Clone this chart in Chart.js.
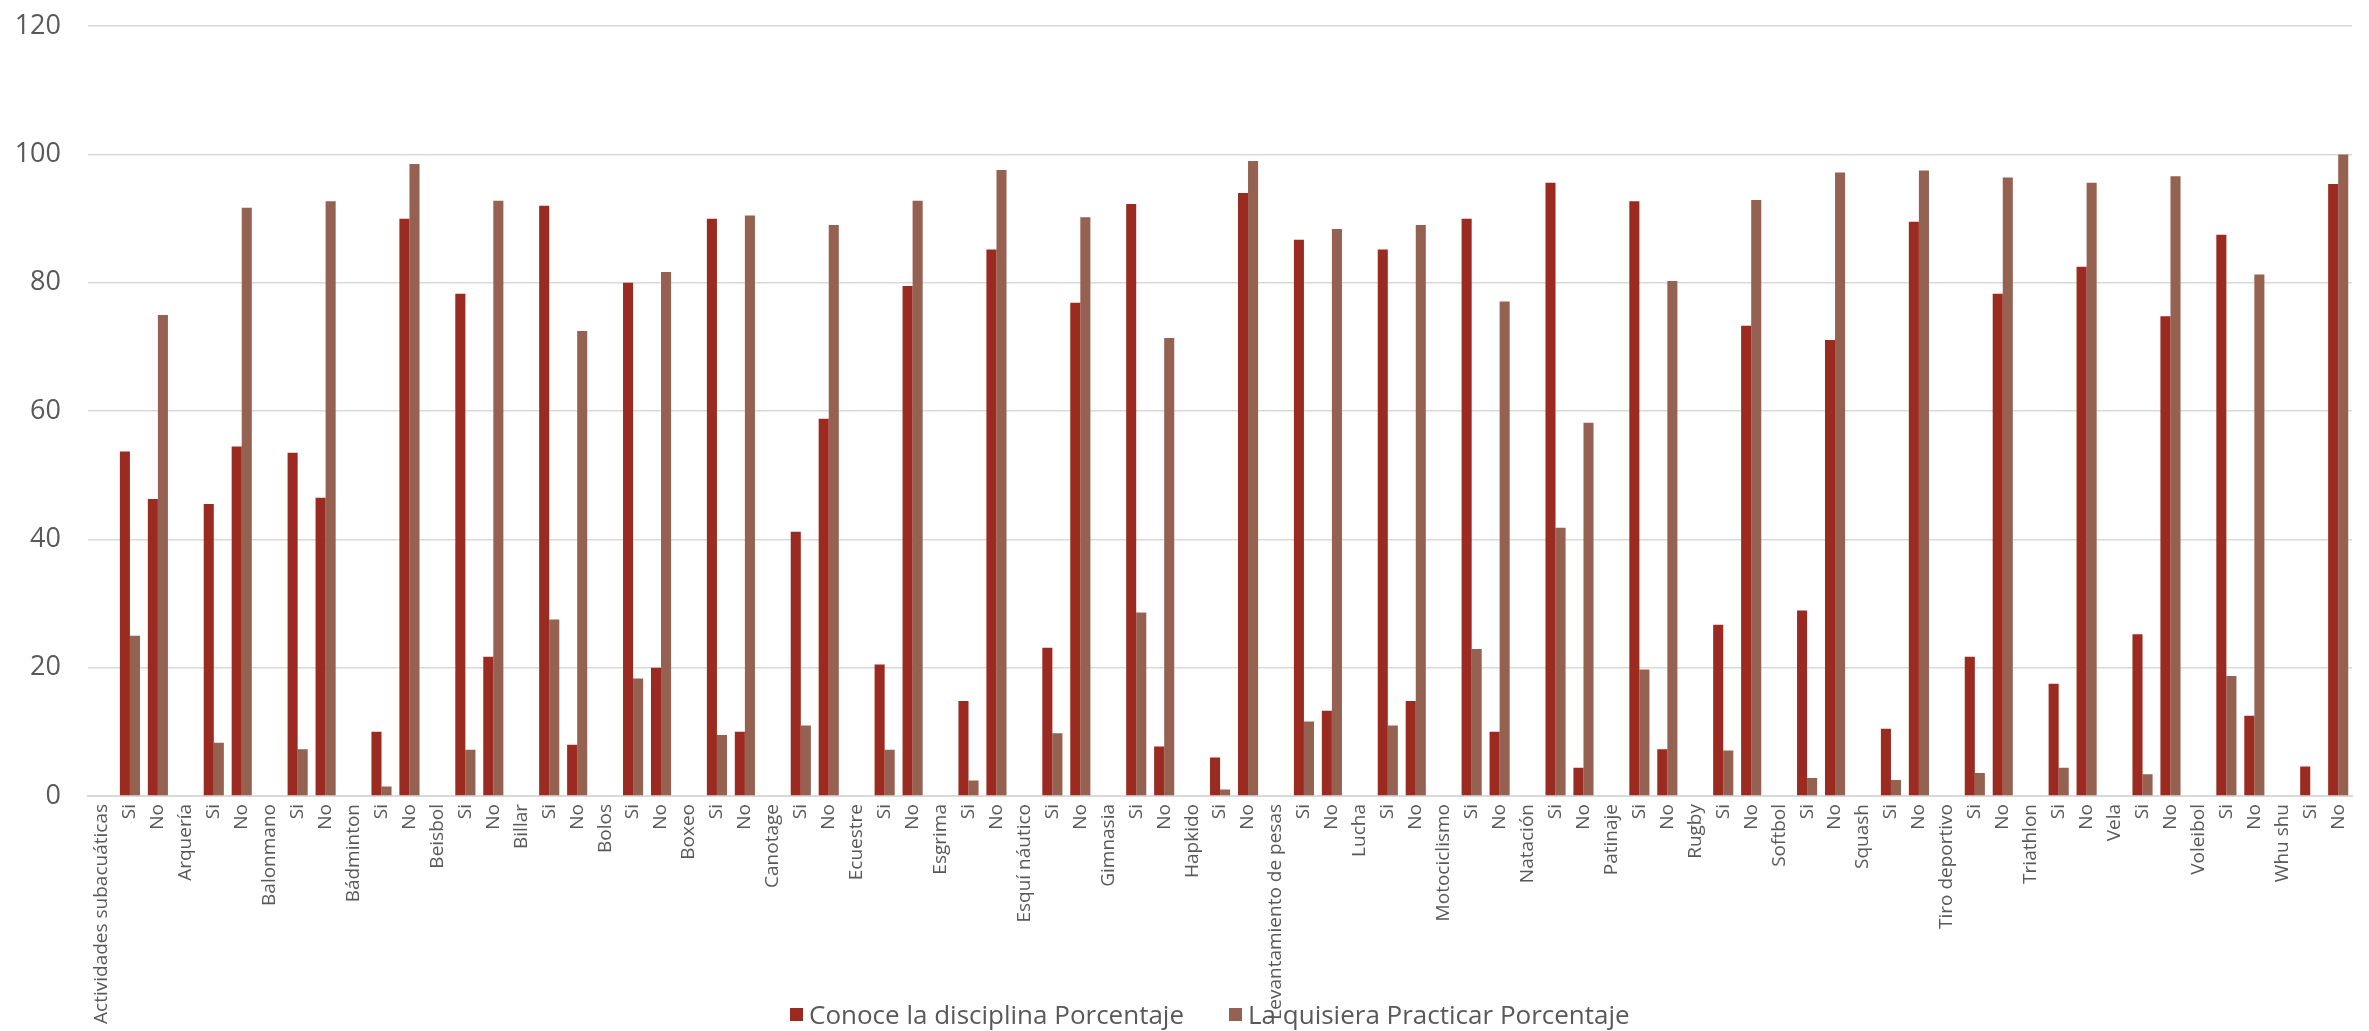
<!DOCTYPE html>
<html>
<head>
<meta charset="utf-8">
<script src="https://cdn.jsdelivr.net/npm/chart.js@4.4.0/dist/chart.umd.min.js"></script>
<style>
  html, body { margin: 0; padding: 0; background: #fff; overflow: hidden; }
  #wrap { position: relative; width: 2369px; height: 1031px; overflow: hidden; }
  #myChart { position: absolute; left: 0; top: -17px; }
  #legend { position: absolute; left: 790px; top: 996px; display: flex; align-items: center;
    font-family: 'Open Sans', sans-serif; font-size: 26px; color: #595959; white-space: nowrap; }
  #legend span.box { display: inline-block; width: 13px; height: 13px; margin-right: 6px; }
  #legend span.item { display: flex; align-items: center; margin-right: 45px; }
</style>
</head>
<body>
<div id="wrap">
  <canvas id="myChart" width="2369" height="1048"></canvas>
  <div id="legend"></div>
</div>
<script>
// sports in the order of the x axis
var sports = ["Actividades subacuáticas", "Arquería", "Balonmano", "Bádminton", "Beisbol", "Billar",
  "Bolos", "Boxeo", "Canotage", "Ecuestre", "Esgrima", "Esquí náutico", "Gimnasia", "Hapkido",
  "Levantamiento de pesas", "Lucha", "Motociclismo", "Natación", "Patinaje", "Rugby", "Softbol",
  "Squash", "Tiro deportivo", "Triathlon", "Vela", "Voleibol", "Whu shu"];

// Conoce la disciplina Porcentaje
var conoceSi = [53.7, 45.5, 53.5, 10, 78.3, 92, 80, 90, 41.2, 20.5, 14.8, 23.1, 92.3, 6,
  86.7, 85.2, 90, 95.6, 92.7, 26.7, 28.9, 10.5, 21.7, 17.5, 25.2, 87.5, 4.6];
var conoceNo = [46.3, 54.5, 46.5, 90, 21.7, 8, 20, 10, 58.8, 79.5, 85.2, 76.9, 7.7, 94,
  13.3, 14.8, 10, 4.4, 7.3, 73.3, 71.1, 89.5, 78.3, 82.5, 74.8, 12.5, 95.4];

// La quisiera Practicar Porcentaje
var quisieraSi = [25, 8.3, 7.3, 1.5, 7.2, 27.5, 18.3, 9.5, 11, 7.2, 2.4, 9.8, 28.6, 1,
  11.6, 11, 22.9, 41.8, 19.7, 7.1, 2.8, 2.5, 3.6, 4.4, 3.4, 18.7, 0];
var quisieraNo = [75, 91.7, 92.7, 98.5, 92.8, 72.5, 81.7, 90.5, 89, 92.8, 97.6, 90.2, 71.4, 99,
  88.4, 89, 77.1, 58.2, 80.3, 92.9, 97.2, 97.5, 96.4, 95.6, 96.6, 81.3, 100];

var yTicks = [0, 20, 40, 60, 80, 100, 120];

// each sport gets a header slot followed by Si / No
var labels = [], conoce = [], quisiera = [];
sports.forEach(function (s, i) {
  labels.push(s, "Si", "No");
  conoce.push(null, conoceSi[i], conoceNo[i]);
  quisiera.push(null, quisieraSi[i], quisieraNo[i]);
});

var gray = "#595959";

var chart = new Chart("myChart", {
  type: "bar",
  data: {
    labels: labels,
    datasets: [
      { label: "Conoce la disciplina Porcentaje", data: conoce, backgroundColor: "#9b2b20" },
      { label: "La quisiera Practicar Porcentaje", data: quisiera, backgroundColor: "#956252" }
    ]
  },
  options: {
    responsive: false,
    animation: false,
    layout: { autoPadding: false, padding: { top: 7, right: 0, left: 0, bottom: 0 } },
    datasets: { bar: { categoryPercentage: 0.72, barPercentage: 1.0 } },
    plugins: {
      legend: { display: false },
      tooltip: { enabled: false }
    },
    scales: {
      x: {
        grid: { display: false, drawTicks: false },
        border: { color: "#d9d9d9", width: 2 },
        ticks: {
          autoSkip: false, minRotation: 90, maxRotation: 90, padding: 8,
          color: gray, font: { family: "'Open Sans', sans-serif", size: 19 }
        },
        afterFit: function (scale) { scale.height = 235; }
      },
      y: {
        min: 0, max: 120,
        afterBuildTicks: function (scale) { scale.ticks = yTicks.map(function (v) { return { value: v }; }); },
        grid: { color: "#d9d9d9", lineWidth: 1.5, drawTicks: false },
        border: { display: false },
        ticks: {
          padding: 27, color: gray,
          font: { family: "'Open Sans', sans-serif", size: 27 }
        },
        afterFit: function (scale) { scale.width = 88; }
      }
    }
  }
});

// html legend so it can sit over the label area like the original
var legend = document.getElementById("legend");
chart.data.datasets.forEach(function (ds) {
  var item = document.createElement("span");
  item.className = "item";
  var box = document.createElement("span");
  box.className = "box";
  box.style.background = ds.backgroundColor;
  item.appendChild(box);
  item.appendChild(document.createTextNode(ds.label));
  legend.appendChild(item);
});
</script>
</body>
</html>
